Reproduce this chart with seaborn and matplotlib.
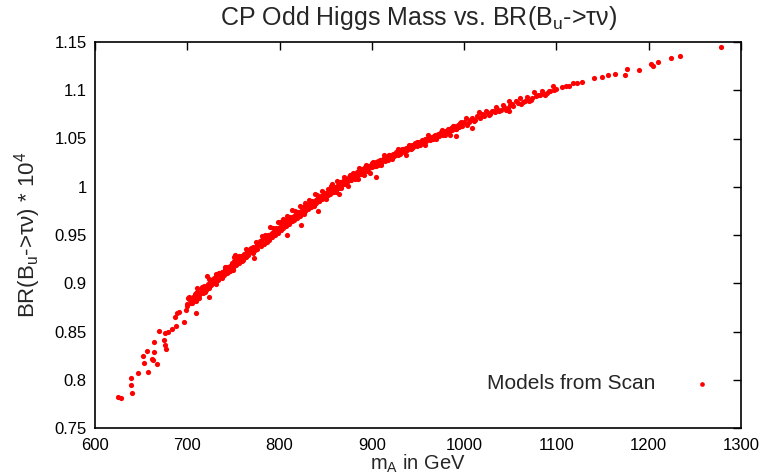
import matplotlib
matplotlib.use("Agg")
import matplotlib.pyplot as plt
import seaborn as sns
import pandas as pd
from matplotlib.ticker import FuncFormatter

# ---- data ----
m_low = [625, 628, 639, 639, 640, 647, 652, 653, 656, 657, 662, 663, 664, 664, 667, 669,
         675, 676, 677, 676, 679, 683, 688, 687, 689, 691, 696, 699, 700, 702, 705, 709,
         709, 713, 716, 720, 721, 724, 727, 731, 734, 738, 742, 745, 748, 752, 756, 764]
br_low = [0.782, 0.781, 0.802, 0.795, 0.786, 0.807, 0.825, 0.817, 0.830, 0.808, 0.822, 0.820,
          0.829, 0.839, 0.816, 0.851, 0.841, 0.836, 0.832, 0.848, 0.850, 0.853, 0.856, 0.865,
          0.869, 0.870, 0.860, 0.872, 0.876, 0.886, 0.880, 0.890, 0.869, 0.885, 0.891, 0.894,
          0.907, 0.886, 0.900, 0.910, 0.911, 0.905, 0.917, 0.914, 0.921, 0.929, 0.924, 0.927]

m_a = [700, 702, 704, 706, 708, 710, 711, 713, 715, 717, 718, 720, 722, 723, 725, 726, 728,
       730, 731, 733, 735, 736, 738, 740, 741, 743, 745, 746, 748, 750, 751, 753, 755, 756,
       758, 760, 761, 763, 765, 766, 768, 770, 771, 773, 775, 776, 778, 780, 781, 783,
       701, 704, 706, 709, 711, 714, 716, 719, 721, 724, 726, 729, 731, 734, 736, 739, 741,
       744, 746, 749, 751, 754, 756, 759, 761, 764, 766, 769, 771, 774, 776, 779, 781]
br_a = [0.878, 0.884, 0.880, 0.882, 0.889, 0.885, 0.891, 0.888, 0.894, 0.890, 0.897, 0.893,
        0.899, 0.895, 0.902, 0.898, 0.904, 0.900, 0.907, 0.903, 0.910, 0.906, 0.912, 0.909,
        0.915, 0.911, 0.917, 0.913, 0.920, 0.916, 0.923, 0.919, 0.925, 0.921, 0.928, 0.924,
        0.930, 0.927, 0.933, 0.929, 0.935, 0.932, 0.938, 0.934, 0.940, 0.936, 0.942, 0.939,
        0.945, 0.941,
        0.885, 0.880, 0.886, 0.882, 0.895, 0.890, 0.896, 0.891, 0.897, 0.904, 0.899, 0.905,
        0.899, 0.911, 0.908, 0.912, 0.917, 0.912, 0.918, 0.914, 0.927, 0.922, 0.928, 0.923,
        0.929, 0.936, 0.931, 0.937, 0.931, 0.943, 0.940, 0.944, 0.949]

m_b = [785, 786, 788, 789, 791, 792, 794, 795, 797, 798, 800, 801, 803, 804, 806, 807, 809,
       810, 812, 813, 815, 816, 818, 819, 821, 822, 824, 825, 827, 828, 830, 831, 833, 834,
       836, 837, 839, 840, 842, 843, 845, 846, 848, 849, 851, 852, 854, 855, 857, 858, 860,
       861, 863, 864, 866, 867, 869, 870, 872, 873, 875, 876, 878, 879, 881, 882, 884, 885,
       887, 888, 890, 891, 893, 894, 896, 897, 899, 900,
       808, 823, 842, 864, 857, 904, 772,
       784, 786, 787, 789, 790, 792, 793, 795, 796, 798, 799, 801, 802, 804, 805, 807, 808,
       810, 811, 813, 814, 816, 817, 819, 820, 822, 823, 825, 826, 828, 829, 831, 832, 834,
       835, 837, 838, 840, 841, 843, 844, 846, 847, 849, 850, 852, 853, 855, 856, 858, 859,
       861, 862, 864, 865, 867, 868, 870, 871, 873, 874, 876, 877, 879, 880, 882, 883, 885,
       886, 888, 889, 891, 892, 894, 895, 897, 898, 900]
br_b = [0.947, 0.943, 0.949, 0.945, 0.951, 0.948, 0.953, 0.950, 0.956, 0.952, 0.958, 0.955,
        0.960, 0.957, 0.963, 0.959, 0.965, 0.961, 0.967, 0.964, 0.969, 0.966, 0.972, 0.968,
        0.974, 0.970, 0.976, 0.973, 0.978, 0.975, 0.980, 0.977, 0.982, 0.979, 0.984, 0.981,
        0.986, 0.983, 0.988, 0.985, 0.990, 0.987, 0.992, 0.989, 0.994, 0.991, 0.996, 0.993,
        0.998, 0.995, 1.000, 0.997, 1.002, 0.999, 1.004, 1.001, 1.006, 1.003, 1.008, 1.005,
        1.010, 1.007, 1.011, 1.009, 1.013, 1.010, 1.015, 1.012, 1.017, 1.014, 1.018, 1.016,
        1.020, 1.017, 1.022, 1.019, 1.023, 1.020,
        0.950, 0.960, 0.975, 0.992, 1.003, 1.010, 0.926,
        0.950, 0.945, 0.950, 0.946, 0.958, 0.952, 0.957, 0.952, 0.957, 0.963, 0.957, 0.963,
        0.955, 0.967, 0.963, 0.966, 0.970, 0.964, 0.969, 0.964, 0.976, 0.970, 0.975, 0.969,
        0.974, 0.980, 0.974, 0.979, 0.972, 0.983, 0.979, 0.982, 0.986, 0.980, 0.985, 0.980,
        0.992, 0.986, 0.991, 0.985, 0.989, 0.996, 0.989, 0.994, 0.987, 0.998, 0.994, 0.997,
        1.001, 0.995, 0.999, 0.995, 1.006, 1.000, 1.005, 0.999, 1.003, 1.010, 1.003, 1.008,
        1.001, 1.012, 1.007, 1.010, 1.014, 1.008, 1.013, 1.008, 1.019, 1.013, 1.018, 1.012,
        1.017, 1.023, 1.016, 1.021, 1.014, 1.025]

m_c = [902, 903, 905, 907, 909, 910, 912, 914, 916, 917, 919, 921, 923, 924, 926, 928, 930,
       931, 933, 935, 937, 938, 940, 942, 944, 945, 947, 949, 951, 952, 954, 956, 958, 959,
       961, 963, 965, 966, 968, 970, 972, 973, 975, 977, 979, 980, 982, 984, 986, 987, 989,
       991, 993, 994, 996, 998, 991, 1008,
       901, 904, 907, 910, 913, 916, 919, 922, 925, 928, 931, 934, 937, 940, 943, 946, 949,
       952, 955, 958, 961, 964, 967, 970, 973, 976, 979, 982, 985, 988, 991, 994, 997]
br_c = [1.025, 1.022, 1.026, 1.023, 1.028, 1.025, 1.029, 1.027, 1.031, 1.028, 1.033, 1.030,
        1.034, 1.032, 1.036, 1.033, 1.037, 1.035, 1.039, 1.036, 1.040, 1.038, 1.042, 1.039,
        1.043, 1.041, 1.045, 1.042, 1.046, 1.044, 1.048, 1.045, 1.049, 1.047, 1.051, 1.048,
        1.052, 1.050, 1.054, 1.051, 1.055, 1.053, 1.057, 1.054, 1.058, 1.056, 1.060, 1.057,
        1.061, 1.059, 1.063, 1.060, 1.064, 1.062, 1.066, 1.063, 1.053, 1.061,
        1.026, 1.022, 1.027, 1.023, 1.033, 1.028, 1.033, 1.029, 1.033, 1.039, 1.034, 1.039,
        1.033, 1.043, 1.040, 1.043, 1.046, 1.043, 1.047, 1.043, 1.054, 1.049, 1.053, 1.049,
        1.054, 1.059, 1.054, 1.059, 1.054, 1.063, 1.060, 1.064, 1.067]

m_d = [1000, 1003, 1006, 1008, 1011, 1014, 1017, 1019, 1022, 1025, 1028, 1030, 1033, 1036,
       1040, 1043, 1047, 1050, 1053, 1058, 1062, 1066, 1070, 1074, 1078, 1082, 1086, 1090,
       1093, 1097, 1100, 1049,
       1002, 1005, 1009, 1012, 1016, 1020, 1024, 1027, 1031, 1035, 1038, 1042, 1045, 1049,
       1052, 1056, 1060, 1064, 1068, 1072, 1076, 1080, 1084, 1088, 1092, 1096,
       1106, 1110, 1114, 1118, 1122, 1128, 1141, 1149, 1156, 1163, 1174, 1177, 1189, 1202,
       1205, 1210, 1224, 1234, 1278]
br_d = [1.067, 1.064, 1.069, 1.070, 1.068, 1.073, 1.071, 1.075, 1.073, 1.077, 1.075, 1.079,
        1.077, 1.081, 1.080, 1.083, 1.082, 1.085, 1.084, 1.087, 1.086, 1.089, 1.089, 1.092,
        1.094, 1.095, 1.096, 1.097, 1.099, 1.100, 1.101, 1.078,
        1.071, 1.067, 1.071, 1.069, 1.077, 1.074, 1.078, 1.074, 1.079, 1.083, 1.079, 1.085,
        1.080, 1.089, 1.086, 1.089, 1.092, 1.088, 1.093, 1.090, 1.098, 1.095, 1.099, 1.095,
        1.099, 1.104,
        1.103, 1.104, 1.104, 1.107, 1.108, 1.109, 1.113, 1.114, 1.116, 1.117, 1.116, 1.122,
        1.121, 1.127, 1.125, 1.129, 1.133, 1.135, 1.145]

x_ticks = [600, 700, 800, 900, 1000, 1100, 1200, 1300]
y_ticks = [0.75, 0.8, 0.85, 0.9, 0.95, 1.0, 1.05, 1.1, 1.15]

mA = m_low + m_a + m_b + m_c + m_d
br = br_low + br_a + br_b + br_c + br_d
df = pd.DataFrame({"mA": mA, "BR": br})

# ---- plotting ----
sns.set_style("white")
plt.rcParams["font.family"] = ["Liberation Sans", "DejaVu Sans"]
plt.rcParams["mathtext.default"] = "regular"

fig = plt.figure(figsize=(7.61, 4.76), dpi=100)
ax = fig.add_axes([95 / 761, 1 - 428 / 476, (741 - 95) / 761, (428 - 42) / 476])

sns.scatterplot(data=df, x="mA", y="BR", ax=ax, color="#ff0000", s=14,
                linewidth=0, label="Models from Scan")

ax.set_xlim(600, 1300)
ax.set_ylim(0.75, 1.15)
ax.set_xticks(x_ticks)
ax.set_yticks(y_ticks)
ax.yaxis.set_major_formatter(FuncFormatter(lambda v, p: "%g" % round(v, 3)))
ax.tick_params(direction="in", length=6, width=1, top=True, right=True,
               labelsize=12, colors="black")
ax.tick_params(axis="x", pad=7)
ax.tick_params(axis="y", pad=6)
for s in ax.spines.values():
    s.set_color("black")
    s.set_linewidth(1.2)

ax.set_title("CP Odd Higgs Mass vs. BR(B$_u$->τν)", fontsize=18, pad=12)
ax.set_xlabel("m$_A$ in GeV", fontsize=14.5, labelpad=0)
ax.set_ylabel("BR(B$_u$->τν) * 10$^4$", fontsize=16, labelpad=8)

leg = ax.legend(loc="center right", bbox_to_anchor=(0.955, 0.114), frameon=False,
                markerfirst=False, fontsize=15, handlelength=1.0, handletextpad=1.7,
                borderpad=0, borderaxespad=0, markerscale=0.9)

fig.savefig("out.png", dpi=100)
